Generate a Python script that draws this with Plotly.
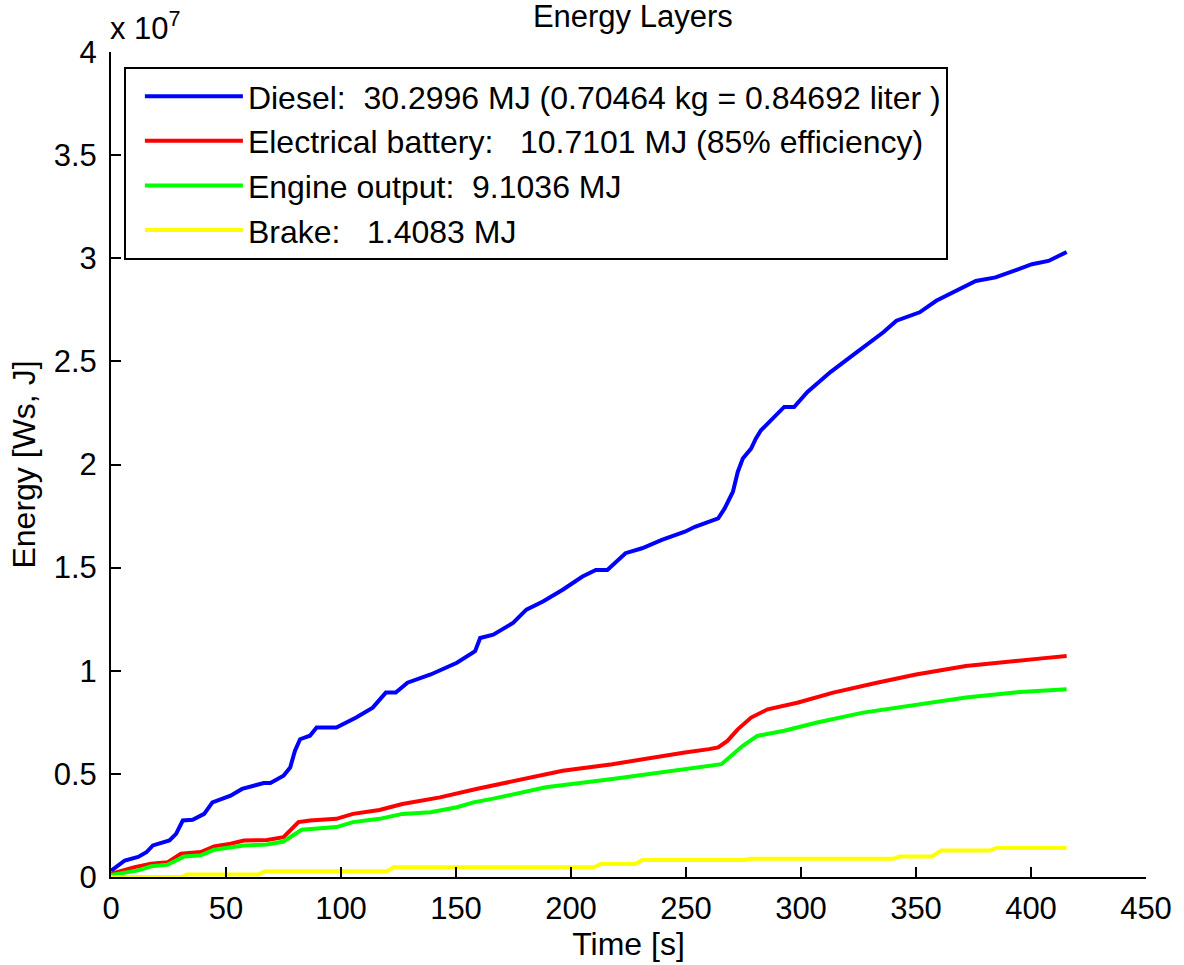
import plotly.graph_objects as go

# ---- data (time in s, energy in J) ----
diesel_t = [0, 6, 11.8, 15.4, 18.2, 25.4, 28.3, 31.2, 35.5, 40.5, 44.1, 52, 57, 66.4, 69.3, 75, 77.9, 80, 82.2,
            86.5, 89.4, 98, 106.6, 113.8, 119.5, 123.8, 128.9, 139, 150.4, 154.7, 158.3, 160.5, 166.2, 174.8,
            180.6, 187.8, 196.4, 205, 210.8, 215.8, 223.7, 230.9, 239.5, 249.5, 253.9, 264, 266.8, 270.4,
            272.5, 274.7, 278.3, 280.4, 282.6, 292.7, 297, 302.7, 312.8, 324.3, 335.8, 341.5, 351.6, 358.8,
            376, 384.6, 400.4, 407.6, 415.5]
diesel_e = [0.03e7, 0.08e7, 0.097e7, 0.12e7, 0.153e7, 0.177e7, 0.209e7, 0.274e7, 0.277e7, 0.306e7, 0.362e7,
            0.394e7, 0.427e7, 0.456e7, 0.456e7, 0.491e7, 0.531e7, 0.612e7, 0.668e7, 0.685e7, 0.725e7,
            0.725e7, 0.773e7, 0.821e7, 0.894e7, 0.894e7, 0.942e7, 0.982e7, 1.039e7, 1.071e7, 1.095e7,
            1.159e7, 1.175e7, 1.232e7, 1.296e7, 1.336e7, 1.393e7, 1.457e7, 1.489e7, 1.489e7, 1.57e7,
            1.594e7, 1.634e7, 1.674e7, 1.698e7, 1.739e7, 1.787e7, 1.868e7, 1.964e7, 2.029e7, 2.077e7,
            2.126e7, 2.166e7, 2.279e7, 2.279e7, 2.351e7, 2.448e7, 2.545e7, 2.641e7, 2.697e7, 2.738e7,
            2.794e7, 2.89e7, 2.907e7, 2.971e7, 2.987e7, 3.030e7]

battery_t = [0, 10.3, 17.5, 24.7, 30.4, 39, 44.8, 52, 57.8, 67.8, 75, 81.5, 86.5, 98, 105.2, 116.7, 126.7,
             143, 158.8, 176, 196.4, 218, 239.5, 249.5, 260, 264, 268, 272.5, 278.3, 285.5, 298.4, 314, 333,
             350, 371.7, 387.5, 404.7, 415.5]
battery_e = [0.015e7, 0.048e7, 0.064e7, 0.072e7, 0.113e7, 0.121e7, 0.148e7, 0.161e7, 0.177e7, 0.18e7,
             0.193e7, 0.266e7, 0.274e7, 0.282e7, 0.306e7, 0.325e7, 0.354e7, 0.386e7, 0.427e7, 0.467e7,
             0.515e7, 0.547e7, 0.587e7, 0.604e7, 0.62e7, 0.628e7, 0.66e7, 0.716e7, 0.773e7, 0.813e7,
             0.845e7, 0.894e7, 0.942e7, 0.982e7, 1.023e7, 1.043e7, 1.06e7, 1.071e7]

engine_t = [0, 11.8, 17.5, 24.7, 31.9, 39, 44.8, 57.8, 67.8, 75, 82.9, 98, 105.2, 116.7, 126.7, 139, 150.4,
            157.6, 166.2, 189, 218, 239.5, 249.5, 258, 265.4, 274.7, 281, 292.7, 307, 327, 350, 371.7, 393,
            415.5]
engine_e = [0.01e7, 0.032e7, 0.052e7, 0.06e7, 0.1e7, 0.105e7, 0.132e7, 0.153e7, 0.158e7, 0.172e7, 0.229e7,
            0.242e7, 0.266e7, 0.282e7, 0.306e7, 0.314e7, 0.338e7, 0.362e7, 0.38e7, 0.435e7, 0.475e7,
            0.507e7, 0.523e7, 0.539e7, 0.547e7, 0.636e7, 0.684e7, 0.709e7, 0.749e7, 0.797e7, 0.837e7,
            0.87e7, 0.895e7, 0.910e7]

brake_t = [0, 31, 33, 64, 67, 120, 123, 210, 213, 228, 231, 275, 278, 340, 343, 357, 361, 382, 385, 415.5]
brake_e = [0, 0, 0.012e7, 0.012e7, 0.028e7, 0.028e7, 0.047e7, 0.047e7, 0.063e7, 0.063e7, 0.082e7, 0.082e7,
           0.088e7, 0.088e7, 0.1e7, 0.1e7, 0.128e7, 0.128e7, 0.1408e7, 0.1408e7]

names = ["Diesel:  30.2996 MJ (0.70464 kg = 0.84692 liter )",
         "Electrical battery:   10.7101 MJ (85% efficiency)",
         "Engine output:  9.1036 MJ",
         "Brake:   1.4083 MJ"]
colors = ["#0000ff", "#ff0000", "#00ff00", "#ffff00"]

x_ticks = [0, 50, 100, 150, 200, 250, 300, 350, 400, 450]
y_ticks = [0, 0.5e7, 1e7, 1.5e7, 2e7, 2.5e7, 3e7, 3.5e7, 4e7]
y_tick_text = ["0", "0.5", "1", "1.5", "2", "2.5", "3", "3.5", "4"]

FONT = "Liberation Sans, Arial, sans-serif"

fig = go.Figure()
for t, e, n, c in zip([diesel_t, battery_t, engine_t, brake_t],
                      [diesel_e, battery_e, engine_e, brake_e], names, colors):
    fig.add_trace(go.Scatter(x=t, y=e, mode="lines", name=n,
                             line=dict(color=c, width=4), hoverinfo="skip"))

fig.update_layout(
    width=1184, height=965,
    margin=dict(l=111, r=29, t=52, b=85),
    plot_bgcolor="white", paper_bgcolor="white",
    font=dict(family=FONT, color="black", size=31),
    title=dict(text="Energy Layers", x=0.5345, xanchor="center", y=1 - 5 / 965, yanchor="top",
               font=dict(size=31, family=FONT, color="black")),
    xaxis=dict(range=[0, 450], tickvals=x_ticks, ticks="inside", ticklen=10, tickwidth=2,
               tickcolor="black", showline=True, linecolor="black", linewidth=2, mirror=False,
               showgrid=False, zeroline=False, ticklabelstandoff=3,
               title=dict(text="Time [s]", font=dict(size=32), standoff=4),
               tickfont=dict(size=31)),
    yaxis=dict(range=[0, 4e7], tickvals=y_ticks, ticktext=y_tick_text, ticks="inside", ticklen=10,
               tickwidth=2, tickcolor="black", showline=True, linecolor="black", linewidth=2,
               mirror=False, showgrid=False, zeroline=False, ticklabelstandoff=6,
               title=dict(text="Energy [Ws, J]", font=dict(size=32), standoff=8),
               tickfont=dict(size=31)),
    legend=dict(x=(124 - 111) / 1044, y=(880 - 67) / 828, xanchor="left", yanchor="top",
                bgcolor="white", bordercolor="black", borderwidth=2, indentation=14,
                font=dict(size=32, family=FONT), itemwidth=98, tracegroupgap=0),
    showlegend=True,
)

fig.add_annotation(text="x 10<sup>7</sup>", xref="paper", yref="paper", x=0, y=1.0,
                   xanchor="left", yanchor="bottom", showarrow=False,
                   font=dict(size=31, family=FONT, color="black"), xshift=-3, yshift=4)

fig.write_html("out.html", config={"displayModeBar": False},
               post_script="document.body.style.margin='0';")
